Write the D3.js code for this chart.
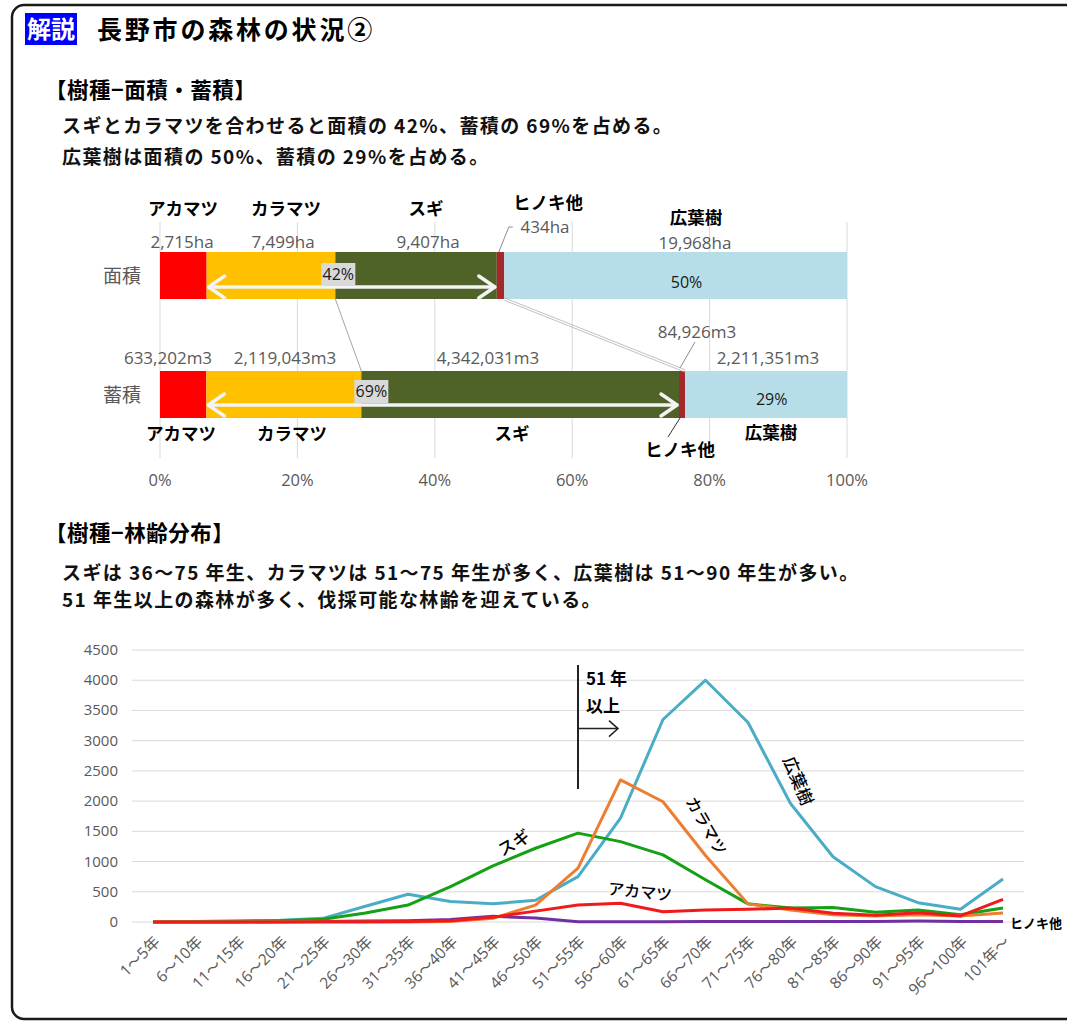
<!DOCTYPE html>
<html><head><meta charset="utf-8">
<script src="https://cdn.jsdelivr.net/npm/d3@7"></script>
<style>
html,body{margin:0;padding:0;background:#fff;}
svg{display:block;}
</style></head>
<body>
<svg id="c" width="1067" height="1023"></svg>
<script>
// ---------- data ----------
const species = ["アカマツ","カラマツ","スギ","ヒノキ他","広葉樹"];
const areaHa = [2715, 7499, 9407, 434, 19968];
const areaLabels = ["2,715ha","7,499ha","9,407ha","434ha","19,968ha"];
const volumeM3 = [633202, 2119043, 4342031, 84926, 2211351];
const volumeLabels = ["633,202m3","2,119,043m3","4,342,031m3","84,926m3","2,211,351m3"];
const barRows = ["面積","蓄積"];
const pctTicks = [0, 0.2, 0.4, 0.6, 0.8, 1.0];
const pctTickLabels = ["0%","20%","40%","60%","80%","100%"];

const ageClasses = ["1〜5年","6〜10年","11〜15年","16〜20年","21〜25年","26〜30年","31〜35年","36〜40年","41〜45年","46〜50年","51〜55年","56〜60年","61〜65年","66〜70年","71〜75年","76〜80年","81〜85年","86〜90年","91〜95年","96〜100年","101年〜"];
const broadleaf = [0,10,20,30,60,260,460,340,300,360,750,1720,3350,4000,3300,1960,1080,585,320,210,710];
const larch     = [0,0,0,0,0,0,0,10,60,280,890,2350,1990,1100,300,200,120,100,120,100,150];
const sugi      = [0,5,10,20,45,150,280,585,930,1220,1470,1330,1110,700,300,230,240,160,200,120,230];
const redpine   = [0,0,0,0,5,5,10,20,80,180,280,310,170,200,210,230,145,110,155,100,375];
const hinoki    = [0,0,0,5,10,15,20,40,95,65,5,5,5,10,10,10,10,10,15,10,10];
const yTicks = [0,500,1000,1500,2000,2500,3000,3500,4000,4500];

const JP = "'Noto Sans CJK JP','Noto Sans',sans-serif";
const NUM = "'Open Sans','Noto Sans CJK JP',sans-serif";
const GRAY = "#595959";

const svg = d3.select("#c");

// ---------- frame & headings ----------
svg.append("rect").attr("x",12).attr("y",5).attr("width",1110).attr("height",1014)
  .attr("rx",12).attr("fill","none").attr("stroke","#1a1a1a").attr("stroke-width",2.5);
svg.append("rect").attr("x",25).attr("y",13).attr("width",52).attr("height",32).attr("fill","#0000FF");
svg.append("text").attr("x",51).attr("y",38).attr("text-anchor","middle").attr("fill","#fff")
  .attr("font-family",JP).attr("font-weight",700).attr("font-size",24).text("解説");
svg.append("text").attr("x",97).attr("y",39).attr("font-family",JP).attr("font-weight",700)
  .attr("font-size",25).attr("letter-spacing",2.8).attr("fill","#000").text("長野市の森林の状況②");

function heading(txt,y){
  svg.append("text").attr("x",45).attr("y",y).attr("font-family",JP).attr("font-weight",700)
    .attr("font-size",21.5).attr("letter-spacing",0.5).attr("fill","#000").text(txt);
}
function body(txt,y){
  svg.append("text").attr("x",62).attr("y",y).attr("font-family",JP).attr("font-weight",700)
    .attr("font-size",19).attr("letter-spacing",1.4).attr("fill","#111").text(txt);
}
heading("【樹種−面積・蓄積】",98);
body("スギとカラマツを合わせると面積の 42%、蓄積の 69%を占める。",133);
body("広葉樹は面積の 50%、蓄積の 29%を占める。",164);
heading("【樹種−林齢分布】",541);
body("スギは 36〜75 年生、カラマツは 51〜75 年生が多く、広葉樹は 51〜90 年生が多い。",580);
body("51 年生以上の森林が多く、伐採可能な林齢を迎えている。",607);

// ---------- 100% stacked bar chart ----------
const xb = d3.scaleLinear().domain([0,1]).range([160,847]);
const yb = d3.scalePoint().domain(barRows).range([275.5,394.5]);
const barH = 47;
const barColors = ["#FF0000","#FFC000","#4F6228","#A5282A","#B7DEE8"];

// gridlines
svg.append("g").selectAll("line").data(pctTicks).join("line")
  .attr("x1",d=>xb(d)).attr("x2",d=>xb(d)).attr("y1",222).attr("y2",458)
  .attr("stroke","#d9d9d9").attr("stroke-width",1);
svg.append("g").selectAll("text").data(pctTicks).join("text")
  .attr("x",d=>xb(d)).attr("y",486).attr("text-anchor","middle")
  .attr("font-family",NUM).attr("font-size",16.5).attr("fill",GRAY)
  .text((d,i)=>pctTickLabels[i]);

function cumul(vals){
  const tot = d3.sum(vals); let acc=0;
  return vals.map((v,i)=>{const s=acc/tot; acc+=v; return {i, s, e:acc/tot};});
}
const areaSeg = cumul(areaHa), volSeg = cumul(volumeM3);
[[barRows[0],areaSeg],[barRows[1],volSeg]].forEach(([row,segs])=>{
  const y0 = yb(row)-barH/2;
  svg.append("g").selectAll("rect").data(segs).join("rect")
    .attr("x",d=>xb(d.s)).attr("width",d=>xb(d.e)-xb(d.s))
    .attr("y",y0).attr("height",barH).attr("fill",d=>barColors[d.i]);
  svg.append("text").attr("x",122).attr("y",yb(row)+7).attr("text-anchor","middle")
    .attr("font-family",JP).attr("font-size",19).attr("fill",GRAY).text(row);
});

// connector lines between bars
const aTop = yb(barRows[0])-barH/2, aBot = yb(barRows[0])+barH/2;
const vTop = yb(barRows[1])-barH/2, vBot = yb(barRows[1])+barH/2;
svg.append("line").attr("x1",xb(areaSeg[2].s)).attr("y1",aBot).attr("x2",xb(volSeg[2].s)).attr("y2",vTop)
  .attr("stroke","#a6a6a6").attr("stroke-width",1);
[-1.2,1.2].forEach(o=>{
  svg.append("line").attr("x1",xb(areaSeg[3].e)).attr("y1",aBot+o).attr("x2",xb(volSeg[3].e)).attr("y2",vTop+o)
    .attr("stroke","#b0b0b0").attr("stroke-width",0.8);
});

// white double-headed arrows
function dblArrow(x1,x2,y){
  const g=svg.append("g").attr("stroke","#f4f4f4").attr("stroke-width",3.5).attr("fill","none")
    .attr("stroke-linecap","round").attr("stroke-linejoin","round");
  g.append("line").attr("x1",x1+2).attr("x2",x2-2).attr("y1",y).attr("y2",y);
  g.append("polyline").attr("points",`${x1+18},${y-11} ${x1+2},${y} ${x1+18},${y+11}`);
  g.append("polyline").attr("points",`${x2-18},${y-11} ${x2-2},${y} ${x2-18},${y+11}`);
}
dblArrow(xb(areaSeg[1].s), xb(areaSeg[2].e), aTop+35);
dblArrow(xb(volSeg[1].s), xb(volSeg[2].e), vTop+34);

// percent labels
function pctBox(txt,x,yc,box){
  if(box) svg.append("rect").attr("x",x-2).attr("y",yc-11).attr("width",34).attr("height",23).attr("fill","#d9d9d9");
  svg.append("text").attr("x",x+15).attr("y",yc+6).attr("text-anchor","middle")
    .attr("font-family",NUM).attr("font-size",16).attr("fill","#1a1a1a").text(txt);
}
pctBox("42%", xb(areaSeg[2].s)-12, aTop+22, true);
pctBox("69%", xb(volSeg[2].s)-5, vTop+20, true);
pctBox("50%", xb(0.765)-14, aTop+30, false);
pctBox("29%", xb(0.889)-14, vTop+28, false);

// labels
const boldLbl = (txt,x,y,fs)=>svg.append("text").attr("x",x).attr("y",y).attr("text-anchor","middle")
  .attr("font-family",JP).attr("font-weight",700).attr("font-size",fs||17.5).attr("fill","#000").text(txt);
const valLbl = (txt,x,y)=>svg.append("text").attr("x",x).attr("y",y).attr("text-anchor","middle")
  .attr("font-family",NUM).attr("font-size",17).attr("fill",GRAY).text(txt);

// top labels (area)
const topSpeciesX = [183,286,426,548,696];
const topSpeciesY = [215,215,215,209,224];
species.forEach((s,i)=>boldLbl(s,topSpeciesX[i],topSpeciesY[i]));
const areaLblX = [182,283,428,545,695];
const areaLblY = [248,248,248,233,249];
areaLabels.forEach((s,i)=>valLbl(s,areaLblX[i],areaLblY[i]));
// 434ha leader
svg.append("polyline").attr("points",`${xb(areaSeg[3].s)+2},${aTop} ${xb(areaSeg[3].s)+12},${aTop-25} ${xb(areaSeg[3].s)+16},${aTop-25}`)
  .attr("fill","none").attr("stroke","#8c8c8c").attr("stroke-width",1);

// volume labels
const volLblX = [168,285,488,697,768];
const volLblY = [364,364,364,338,364];
volumeLabels.forEach((s,i)=>valLbl(s,volLblX[i],volLblY[i]));
svg.append("line").attr("x1",xb(volSeg[3].s)+1).attr("y1",vTop-3).attr("x2",xb(volSeg[3].s)+16).attr("y2",vTop-29)
  .attr("stroke","#8c8c8c").attr("stroke-width",1);

// bottom labels
const botSpeciesX = [181,292,512,680,771];
const botSpeciesY = [440,440,440,456,439];
species.forEach((s,i)=>boldLbl(s,botSpeciesX[i],botSpeciesY[i]));
svg.append("line").attr("x1",xb(volSeg[3].s)+1).attr("y1",vBot).attr("x2",xb(volSeg[3].s)-11).attr("y2",vBot+19)
  .attr("stroke","#333").attr("stroke-width",1);

// ---------- line chart ----------
const xl = d3.scalePoint().domain(ageClasses).range([153,1003]);
const yl = d3.scaleLinear().domain([0,4500]).range([922,650]);

svg.append("g").selectAll("line").data(yTicks).join("line")
  .attr("x1",132).attr("x2",1024).attr("y1",d=>yl(d)).attr("y2",d=>yl(d))
  .attr("stroke","#d9d9d9").attr("stroke-width",1);
svg.append("g").selectAll("text").data(yTicks).join("text")
  .attr("x",118).attr("y",d=>yl(d)+5).attr("text-anchor","end")
  .attr("font-family",NUM).attr("font-size",15).attr("fill",GRAY).text(d=>d);

svg.append("g").selectAll("text").data(ageClasses).join("text")
  .attr("transform",d=>`translate(${xl(d)+4},${939}) rotate(-45)`)
  .attr("text-anchor","end").attr("dy","0.35em")
  .attr("font-family",NUM).attr("font-size",15.5).attr("fill",GRAY).text(d=>d);

const series = [
  {name:"ヒノキ他", vals:hinoki, color:"#7030A0"},
  {name:"広葉樹", vals:broadleaf, color:"#4BACC6"},
  {name:"スギ", vals:sugi, color:"#15A015"},
  {name:"カラマツ", vals:larch, color:"#ED7D31"},
  {name:"アカマツ", vals:redpine, color:"#F01A1A"}
];
const line = d3.line().x((d,i)=>xl(ageClasses[i])).y(d=>yl(d));
svg.append("g").selectAll("path").data(series).join("path")
  .attr("d",d=>line(d.vals)).attr("fill","none").attr("stroke",d=>d.color)
  .attr("stroke-width",3).attr("stroke-linejoin","round");

// series labels
function rotLbl(txt,x,y,ang,fs,bold,anchor){
  svg.append("text").attr("transform",`translate(${x},${y}) rotate(${ang})`)
    .attr("text-anchor",anchor||"middle").attr("dy","0.35em")
    .attr("font-family",JP).attr("font-weight",bold?700:500).attr("font-size",fs).attr("fill","#000").text(txt);
}
rotLbl("スギ",514,843,-30,17);
rotLbl("カラマツ",706,826,60,16);
rotLbl("広葉樹",798,781,67,17);
rotLbl("アカマツ",640,892,6,16);
rotLbl("ヒノキ他",1010,923,0,13,true,"start");

// 51年以上 annotation
const xa = xl(ageClasses[10]);
svg.append("line").attr("x1",xa).attr("x2",xa).attr("y1",yl(4250)).attr("y2",yl(2200))
  .attr("stroke","#222").attr("stroke-width",2);
svg.append("line").attr("x1",xa).attr("x2",xa+40).attr("y1",yl(3200)).attr("y2",yl(3200))
  .attr("stroke","#222").attr("stroke-width",1.5);
svg.append("polyline").attr("points",`${xa+31},${yl(3200)-8} ${xa+40},${yl(3200)} ${xa+31},${yl(3200)+8}`)
  .attr("fill","none").attr("stroke","#222").attr("stroke-width",1.5);
svg.append("text").attr("x",xa+8).attr("y",yl(3920)).attr("font-family",JP).attr("font-weight",700)
  .attr("font-size",17).attr("fill","#000").text("51 年");
svg.append("text").attr("x",xa+8).attr("y",yl(3480)).attr("font-family",JP).attr("font-weight",700)
  .attr("font-size",17).attr("fill","#000").text("以上");
</script>
</body></html>
